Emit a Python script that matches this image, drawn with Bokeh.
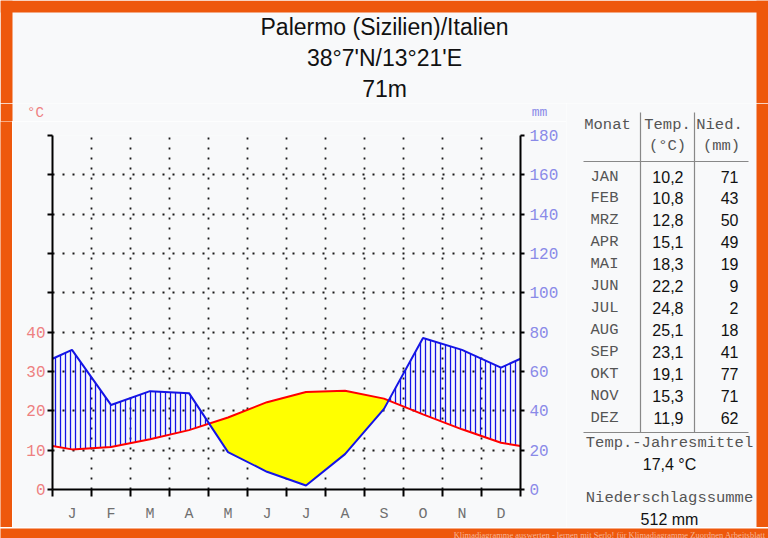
from bokeh.plotting import figure
from bokeh.layouts import column, row
from bokeh.models import Range1d, LinearAxis, FixedTicker, Grid
from bokeh.core.properties import value
from bokeh.embed import file_html
from bokeh.resources import INLINE

# ---------------- data ----------------
month_letters = ["J", "F", "M", "A", "M", "J", "J", "A", "S", "O", "N", "D"]
month_names = ["JAN", "FEB", "MRZ", "APR", "MAI", "JUN", "JUL", "AUG", "SEP", "OKT", "NOV", "DEZ"]
temp_c = [10.2, 10.8, 12.8, 15.1, 18.3, 22.2, 24.8, 25.1, 23.1, 19.1, 15.3, 11.9]
precip_mm = [71, 43, 50, 49, 19, 9, 2, 18, 41, 77, 71, 62]
temp_ticks = [0, 10, 20, 30, 40, 50, 60, 70, 80, 90]
mm_ticks = [0, 20, 40, 60, 80, 100, 120, 140, 160, 180]
title_lines = ["Palermo (Sizilien)/Italien", "38°7'N/13°21'E", "71m"]
watermark = "Klimadiagramme auswerten - lernen mit Serlo! für Klimadiagramme Zuordnen Arbeitsblatt"

# ---------------- layout geometry (canvas pixels) ----------------
W, H = 768, 538
TOP_Y = 103            # end of title strip
MID_Y = 121            # start of chart figure
BOT_Y = 527            # start of bottom orange strip
CHART_X0, CHART_X1 = 12, 566
FL, FR, FT, FB = 52, 520, 135, 489   # chart frame

BG = "#f8f9fa"
ORANGE = "#ee580c"
RED = "#ff0000"
BLUE = "#1414e6"
TEMP_LBL = "#ee8080"
MM_LBL = "#8a8ae8"
MONO = "Liberation Mono"
SANS = "Liberation Sans"
GRAY = "#555555"


def canvas_fig(w, h, x0, y0, bg=BG):
    f = figure(width=w, height=h, x_range=Range1d(x0, x0 + w), y_range=Range1d(y0 + h, y0),
               output_backend="svg", toolbar_location=None,
               x_axis_location=None, y_axis_location=None, min_border=0,
               background_fill_color=bg, border_fill_color=bg, outline_line_color=None,
               frame_align=False)
    f.grid.visible = False
    return f


def txt(f, items, font, size, color, align="center"):
    f.text(x=[i[1] for i in items], y=[i[2] for i in items], text=[i[0] for i in items],
           text_font=value(font), text_font_size=value(f"{size}px"), text_color=color,
           text_align=align, text_baseline="middle")


# ================= title strip =================
top = canvas_fig(W, TOP_Y, 0, 0)
top.quad(left=[0, 0, W - 12], right=[W, 12, W], top=[0, 0, 0], bottom=[12, TOP_Y, TOP_Y],
         fill_color=ORANGE, line_color=None)
txt(top, [(t, 384, 26 + 31 * k) for k, t in enumerate(title_lines)], SANS, 23, "#111111")

# ================= unit strip above chart =================
mid = canvas_fig(CHART_X1, MID_Y - TOP_Y, 0, TOP_Y)
mid.quad(left=[0], right=[12], top=[TOP_Y], bottom=[MID_Y], fill_color=ORANGE, line_color=None)
txt(mid, [("°C", 35, 112)], MONO, 14, TEMP_LBL)
txt(mid, [("mm", 539, 112)], MONO, 13, MM_LBL)

# ================= left orange strip =================
chart_h = BOT_Y - MID_Y
lstrip = canvas_fig(12, chart_h, 0, MID_Y, bg=ORANGE)

# ================= chart =================
p = figure(width=CHART_X1 - CHART_X0, height=chart_h,
           x_range=Range1d(0, 12), y_range=Range1d(0, 180),
           output_backend="svg", toolbar_location=None,
           x_axis_location=None, y_axis_location=None,
           min_border_left=FL - CHART_X0, min_border_right=CHART_X1 - FR,
           min_border_top=FT - MID_Y, min_border_bottom=BOT_Y - FB,
           background_fill_color=BG, border_fill_color=BG, outline_line_color=None,
           frame_align=False)
p.grid.visible = False
p.extra_y_ranges = {"temp": Range1d(0, 90)}

p.add_layout(Grid(dimension=1, ticker=FixedTicker(ticks=mm_ticks[1:]),
                  grid_line_color="#1a1a1a", grid_line_width=1.8, grid_line_dash="2 8"))
p.add_layout(Grid(dimension=0, ticker=FixedTicker(ticks=list(range(1, 12))),
                  grid_line_color="#1a1a1a", grid_line_width=1.8, grid_line_dash="2 8"))

xs = [0.0] + [i + 0.5 for i in range(12)] + [12.0]
edge_t = (temp_c[0] + temp_c[-1]) / 2
edge_p = (precip_mm[0] + precip_mm[-1]) / 2
T = [2 * edge_t] + [2 * t for t in temp_c] + [2 * edge_t]   # 10 °C = 20 mm
P = [edge_p] + list(precip_mm) + [edge_p]

pts = []
for i in range(len(xs)):
    if i > 0:
        d0 = P[i - 1] - T[i - 1]
        d1 = P[i] - T[i]
        if d0 * d1 < 0:
            fr = d0 / (d0 - d1)
            xc = xs[i - 1] + fr * (xs[i] - xs[i - 1])
            yc = T[i - 1] + fr * (T[i] - T[i - 1])
            pts.append((xc, yc, yc, True))
    pts.append((xs[i], T[i], P[i], False))

segments, cur = [], []
for pt in pts:
    cur.append(pt)
    if pt[3]:
        segments.append(cur)
        cur = [pt]
segments.append(cur)

humid_xs, humid_ys, arid_xs, arid_ys = [], [], [], []
for seg in segments:
    sx = [q[0] for q in seg]
    st = [q[1] for q in seg]
    sp = [q[2] for q in seg]
    if sum(b - a for a, b in zip(st, sp)) > 0:
        humid_xs.append(sx + sx[::-1])
        humid_ys.append(sp + st[::-1])
    else:
        arid_xs.append(sx + sx[::-1])
        arid_ys.append(st + sp[::-1])

p.patches(arid_xs, arid_ys, fill_color="#ffff00", line_color=None)
p.patches(humid_xs, humid_ys, fill_alpha=0, line_color=None,
          hatch_pattern="|", hatch_color=BLUE, hatch_scale=5, hatch_weight=1.3)
p.line(xs, T, line_color=RED, line_width=2)
p.line(xs, P, line_color=BLUE, line_width=2)

left = LinearAxis(y_range_name="temp", ticker=FixedTicker(ticks=temp_ticks),
                  major_label_overrides={t: ("" if t > 40 else str(t)) for t in temp_ticks},
                  axis_line_width=2, major_tick_line_width=2,
                  major_tick_out=5, major_tick_in=0, minor_tick_line_color=None,
                  major_label_text_color=TEMP_LBL, major_label_text_font=MONO,
                  major_label_text_font_size="16px", major_label_standoff=2)
p.add_layout(left, "left")

right = LinearAxis(ticker=FixedTicker(ticks=mm_ticks),
                   axis_line_width=2, major_tick_line_width=2,
                   major_tick_out=4, major_tick_in=0, minor_tick_line_color=None,
                   major_label_text_color=MM_LBL, major_label_text_font=MONO,
                   major_label_text_font_size="16px", major_label_standoff=5)
p.add_layout(right, "right")

centers = [i + 0.5 for i in range(12)]
bottom = LinearAxis(ticker=FixedTicker(ticks=centers, minor_ticks=list(range(13))),
                    major_label_overrides={c: m for c, m in zip(centers, month_letters)},
                    axis_line_width=2, major_tick_out=0, major_tick_in=0,
                    minor_tick_out=7, minor_tick_in=0, minor_tick_line_width=2,
                    minor_tick_line_color="black",
                    major_label_text_color="#707070", major_label_text_font=MONO,
                    major_label_text_font_size="15px", major_label_standoff=9)
p.add_layout(bottom, "below")

# ================= side figure (table) =================
side = canvas_fig(W - CHART_X1, BOT_Y - TOP_Y, CHART_X1, TOP_Y)
side.quad(left=[W - 12], right=[W], top=[TOP_Y], bottom=[BOT_Y],
          fill_color=ORANGE, line_color=None)
side.segment(x0=[640, 694, 583, 583], y0=[112, 112, 161, 432],
             x1=[640, 694, 748, 748], y1=[432, 432, 161, 432],
             line_color="#888888", line_width=1.2)
txt(side, [("Monat", 607, 124), ("Temp.", 667, 124), ("Nied.", 719, 124),
           ("(°C)", 667, 145), ("(mm)", 721, 145)], MONO, 15.5, GRAY)

row_step = (417 - 176) / 11
txt(side, [(m, 604, 176 + k * row_step) for k, m in enumerate(month_names)], MONO, 15.5, GRAY)
txt(side, [(f"{t:.1f}".replace(".", ","), 683, 176 + k * row_step) for k, t in enumerate(temp_c)],
    SANS, 16, "#111111", align="right")
txt(side, [(str(v), 738, 176 + k * row_step) for k, v in enumerate(precip_mm)],
    SANS, 16, "#111111", align="right")

mean_t = sum(temp_c) / len(temp_c)
sum_p = sum(precip_mm)
txt(side, [("Temp.-Jahresmittel", 669, 442), ("Niederschlagssumme", 669, 497)], MONO, 15.5, GRAY)
txt(side, [(f"{mean_t:.1f}".replace(".", ",") + " °C", 669, 464), (f"{sum_p} mm", 669, 519)],
    SANS, 16, "#111111")

# ================= bottom orange strip =================
bot = canvas_fig(W, H - BOT_Y, 0, BOT_Y, bg=ORANGE)
txt(bot, [(watermark, 765, 533)], "Liberation Serif", 8.5, "#f6b496", align="right")

layout = column(top, row(column(mid, row(lstrip, p)), side), bot)
open("out.html", "w").write(file_html(layout, INLINE))
